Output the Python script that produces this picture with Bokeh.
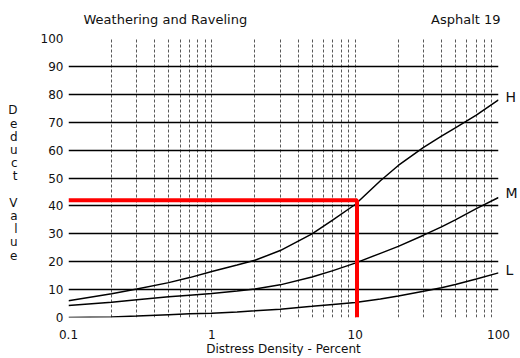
from bokeh.plotting import figure
from bokeh.models import (FixedTicker, Range1d, CustomJSTickFormatter,
                          LinearAxis, LogAxis)
from bokeh.embed import file_html
from bokeh.resources import INLINE

# ---- data ----
density = [0.1, 0.2, 0.3, 0.5, 0.7, 1, 1.5, 2, 3, 5, 7, 10, 15, 20, 30, 40, 50, 70, 100]
high = [6, 8.5, 10.2, 12.5, 14.3, 16.5, 18.8, 20.5, 24, 30, 35, 40.5, 49, 54.5, 61, 65, 68, 72.5, 78]
medium = [4.3, 5.5, 6.4, 7.4, 8.0, 8.6, 9.5, 10.2, 11.7, 14.5, 16.8, 19.5, 23, 25.5, 29.5, 32.5, 35, 39, 43]
low = [0, 0.2, 0.5, 1.0, 1.3, 1.5, 2.0, 2.4, 3.0, 4.0, 4.7, 5.4, 6.6, 7.7, 9.4, 10.7, 11.8, 13.8, 16]
example_x = [0.1, 10.3, 10.3]
example_y = [42, 42, 0]
x_tick_values = [0.1, 1, 10, 100]
y_tick_values = [0, 10, 20, 30, 40, 50, 60, 70, 80, 90, 100]
curve_names = ["H", "M", "L"]
curve_label_y = [79, 44.5, 17]
title_texts = ["Weathering and Raveling", "Asphalt 19"]
title_x = [0.474, 59.2]
ylabel = "Deduct Value"

FONT = "DejaVu Sans"
INK = "#111111"

p = figure(width=520, height=358, x_axis_type="log",
           x_range=Range1d(0.1, 100), y_range=Range1d(0, 100),
           output_backend="svg", toolbar_location=None,
           min_border_left=68, min_border_right=19,
           min_border_top=38, min_border_bottom=41)
p.outline_line_color = None
p.background_fill_color = "white"
p.border_fill_color = "white"


def lookup_formatter(values, names):
    return CustomJSTickFormatter(args=dict(vals=values, names=names), code="""
        for (let i = 0; i < vals.length; i++) {
            if (Math.abs(vals[i] - tick) <= 1e-9 * Math.max(1, Math.abs(tick))) return names[i];
        }
        return '';
    """)


def style_axis(ax, size="12px", bold=False):
    ax.axis_line_color = None
    ax.major_tick_line_color = None
    ax.minor_tick_line_color = None
    ax.major_tick_out = 0
    ax.major_tick_in = 0
    ax.major_label_text_font = FONT
    ax.major_label_text_font_size = size
    ax.major_label_text_font_style = "bold" if bold else "normal"
    ax.major_label_text_color = INK


# main axes
p.xaxis.ticker = FixedTicker(ticks=x_tick_values)
p.xaxis.formatter = CustomJSTickFormatter(code="return tick.toString();")
p.yaxis.ticker = FixedTicker(ticks=y_tick_values)
for ax in (p.xaxis[0], p.yaxis[0]):
    style_axis(ax)
p.xaxis.major_label_standoff = 12
p.yaxis.major_label_standoff = 5
p.xaxis.axis_label = "Distress Density - Percent"
p.xaxis.axis_label_text_font = FONT
p.xaxis.axis_label_text_font_size = "12px"
p.xaxis.axis_label_text_font_style = "normal"
p.xaxis.axis_label_text_color = INK
p.xaxis.axis_label_standoff = 0

# stacked "Deduct Value" letters as a second left axis
letter_vals, letter_names = [], []
for i, ch in enumerate(ylabel):
    if ch != " ":
        letter_vals.append(round((317 - (110 + i * 13.2)) / 2.79, 3))
        letter_names.append(ch)
letter_axis = LinearAxis(ticker=FixedTicker(ticks=letter_vals),
                         formatter=lookup_formatter(letter_vals, letter_names))
style_axis(letter_axis, "12px")
letter_axis.major_label_standoff = 20
p.add_layout(letter_axis, "left")

# curve names on the right
right_axis = LinearAxis(ticker=FixedTicker(ticks=curve_label_y),
                        formatter=lookup_formatter(curve_label_y, curve_names))
style_axis(right_axis, "14px")
right_axis.major_label_standoff = 7
p.add_layout(right_axis, "right")

# titles as an axis above
top_axis = LogAxis(ticker=FixedTicker(ticks=title_x),
                   formatter=lookup_formatter(title_x, title_texts))
style_axis(top_axis, "13px")
top_axis.major_label_standoff = 12
p.add_layout(top_axis, "above")

# grid
minor_x = [m * 10 ** e for e in (-1, 0, 1) for m in range(1, 10)] + [100]
p.xgrid.ticker = FixedTicker(ticks=minor_x)
p.xgrid.grid_line_color = "#222222"
p.xgrid.grid_line_dash = "3 2"
p.xgrid.grid_line_width = 1
p.xgrid.grid_line_alpha = 0.75
p.ygrid.ticker = FixedTicker(ticks=y_tick_values)
p.ygrid.grid_line_color = "black"
p.ygrid.grid_line_width = 1.6

# curves
for ys in (high, medium, low):
    p.line(density, ys, line_color="black", line_width=1.5)

# example red lines
p.line(example_x, example_y, line_color="#ff0000", line_width=4)

open("out.html", "w").write(file_html(p, INLINE))
